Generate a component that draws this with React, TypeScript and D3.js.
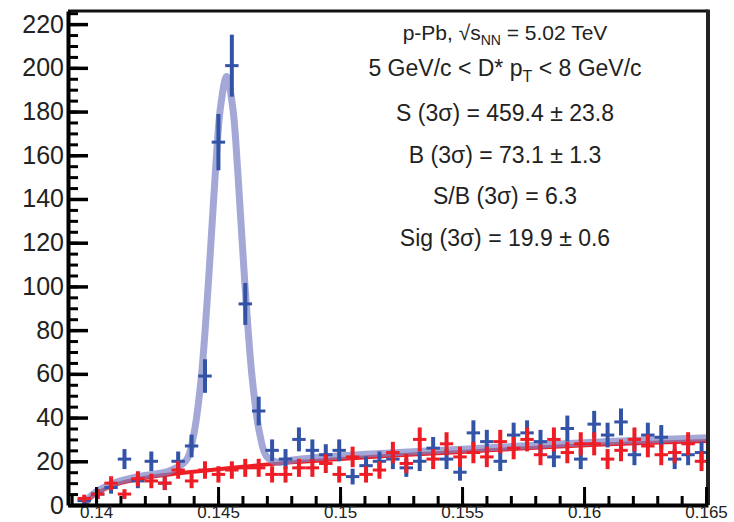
import React, { useEffect, useRef } from 'react'
import * as d3 from 'd3'

const W = 734
const H = 522

// histogram binning, delta M = M(Kpipi) - M(Kpi) in GeV/c^2
const nBins = 48
const binLow = 0.13869
const binWidth = 0.00055

// right-sign D*+ candidates (blue)
const rightSign = [0, 2, 5, 8, 21, 11, 20, 10, 20, 27,
    59, 166, 201, 92, 43, 25, 21, 30, 25, 23,
    25, 13, 18, 20, 21, 17, 20, 26, 21, 15,
    33, 29, 20, 32, 33, 29, 22, 35, 21, 37,
    32, 38, 23, 32, 31, 21, 23, 24]
// background candidates (red)
const background = [0, 3, 5, 10, 5, 12, 11, 10, 16, 11,
    16, 14, 16, 17, 17, 14, 14, 17, 17, 19,
    14, 22, 14, 16, 24, 19, 30, 21, 28, 22,
    24, 22, 29, 26, 30, 23, 30, 24, 28, 28,
    21, 25, 30, 27, 23, 24, 28, 20]

// fit curves
const fitMass = [0.13957, 0.1397, 0.1400, 0.1405, 0.1410, 0.1420, 0.1430, 0.1437, 0.1440, 0.1443,
    0.1446, 0.1449, 0.1451, 0.14535, 0.1456, 0.1458, 0.1461, 0.1464, 0.1467, 0.1470,
    0.1475, 0.1480, 0.1500, 0.1520, 0.1550, 0.1580, 0.1610, 0.1651]
const fitTotal = [0, 3, 6, 9, 11, 13.5, 15.5, 20.5, 32, 57,
    101, 154, 182, 196, 182, 154, 101, 58, 33, 22,
    19.5, 20.5, 22.5, 23.8, 25.5, 27.3, 29, 30.8]
const bkgMass = [0.13957, 0.1397, 0.1400, 0.1405, 0.1410, 0.1420, 0.1430, 0.1440, 0.1460, 0.1480,
    0.1500, 0.1520, 0.1550, 0.1580, 0.1610, 0.1651]
const fitBkg = [0, 2.5, 5, 8, 10, 12.5, 14, 15.2, 17.5, 19.5,
    21, 22.5, 24.3, 26.2, 27.8, 29.3]

const xTicks = [0.14, 0.145, 0.15, 0.155, 0.16, 0.165]
const yTicks = [0, 20, 40, 60, 80, 100, 120, 140, 160, 180, 200, 220]

const infoLines = [
    'S (3\u03c3) = 459.4 \u00b1 23.8',
    'B (3\u03c3) = 73.1 \u00b1 1.3',
    'S/B (3\u03c3) = 6.3',
    'Sig (3\u03c3) = 19.9 \u00b1 0.6'
]

const BLUE = '#3353a6'
const RED = '#ee1d25'
const FONT = '"Liberation Sans", Arial, Helvetica, sans-serif'

export default function App() {
    const ref = useRef<SVGSVGElement>(null)

    useEffect(() => {
        const svg = d3.select(ref.current)
        svg.selectAll('*').remove()

        const left = 68, right = 708, top = 11, bottom = 505

        const x = d3.scaleLinear().domain([0.13885, 0.16508]).range([left, right])
        const y = d3.scaleLinear().domain([0, 226]).range([bottom, top])

        svg.append('rect').attr('width', W).attr('height', H).attr('fill', '#fff')

        svg.append('defs').append('clipPath').attr('id', 'plot')
            .append('rect')
            .attr('x', left).attr('y', top)
            .attr('width', right - left).attr('height', bottom - top)

        const plot = svg.append('g').attr('clip-path', 'url(#plot)')

        // fits
        const line = d3.line<number>()
            .curve(d3.curveCatmullRom.alpha(0.5))

        plot.append('path')
            .attr('d', line.x(d => x(d)).y((d, i) => y(fitBkg[i]))(bkgMass))
            .attr('fill', 'none')
            .attr('stroke', RED)
            .attr('stroke-width', 4)

        plot.append('path')
            .attr('d', line.x(d => x(d)).y((d, i) => y(fitTotal[i]))(fitMass))
            .attr('fill', 'none')
            .attr('stroke', '#7c83c6')
            .attr('stroke-opacity', 0.7)
            .attr('stroke-width', 7)

        const centers = d3.range(nBins).map(i => binLow + (i + 0.5) * binWidth)

        const drawPoints = (values: number[], color: string) => {
            const g = plot.append('g').attr('stroke', color)
            values.forEach((v, i) => {
                if (v <= 0) return
                const c = centers[i]
                const e = Math.sqrt(v)
                g.append('line')
                    .attr('x1', x(c - binWidth / 2)).attr('x2', x(c + binWidth / 2))
                    .attr('y1', y(v)).attr('y2', y(v))
                    .attr('stroke-width', 3)
                g.append('line')
                    .attr('x1', x(c)).attr('x2', x(c))
                    .attr('y1', y(v - e)).attr('y2', y(v + e))
                    .attr('stroke-width', 4)
            })
        }
        drawPoints(rightSign, BLUE)
        drawPoints(background, RED)

        // frame
        svg.append('line')
            .attr('x1', left).attr('x2', right).attr('y1', top).attr('y2', top)
            .attr('stroke', '#111').attr('stroke-width', 3)
        svg.append('line')
            .attr('x1', right).attr('x2', right).attr('y1', top - 1.5).attr('y2', bottom)
            .attr('stroke', '#222').attr('stroke-width', 4)

        // x axis
        const xMinor = d3.range(0.139, 0.1651, 0.001).filter(v => v >= 0.13885)
        svg.append('g')
            .attr('transform', `translate(0,${bottom})`)
            .call(d3.axisBottom(x).tickValues(xMinor).tickSizeInner(-9).tickSizeOuter(0).tickFormat(() => ''))
            .call(g => g.select('.domain').remove())
            .call(g => g.selectAll('line').attr('stroke', '#000').attr('stroke-width', 3))
        const xAxis = svg.append('g')
            .attr('transform', `translate(0,${bottom})`)
            .call(d3.axisBottom(x).tickValues(xTicks).tickSizeInner(-18).tickSizeOuter(0)
                .tickPadding(0).tickFormat(d3.format('.3~f')))
        xAxis.select('.domain').attr('stroke', '#000').attr('stroke-width', 4)
        xAxis.selectAll('line').attr('stroke', '#000').attr('stroke-width', 3)
        xAxis.selectAll('text')
            .attr('font-family', FONT).attr('font-size', 17).attr('fill', '#222')
            .attr('dy', null).attr('y', 13)

        // y axis
        const yMinor = d3.range(0, 226, 5)
        svg.append('g')
            .attr('transform', `translate(${left},0)`)
            .call(d3.axisLeft(y).tickValues(yMinor).tickSizeInner(-10).tickSizeOuter(0).tickFormat(() => ''))
            .call(g => g.select('.domain').remove())
            .call(g => g.selectAll('line').attr('stroke', '#000').attr('stroke-width', 3))
        const yAxis = svg.append('g')
            .attr('transform', `translate(${left},0)`)
            .call(d3.axisLeft(y).tickValues(yTicks).tickSizeInner(-20).tickSizeOuter(0)
                .tickPadding(4).tickFormat(d3.format('d')))
        yAxis.select('.domain').attr('stroke', '#000').attr('stroke-width', 4)
        yAxis.selectAll('line').attr('stroke', '#000').attr('stroke-width', 3.5)
        yAxis.selectAll('text').attr('font-family', FONT).attr('font-size', 25).attr('fill', '#222')

        // info text
        const cx = 505
        const info = svg.append('g')
            .attr('font-family', FONT)
            .attr('fill', '#222')
            .attr('text-anchor', 'middle')

        const t1 = info.append('text').attr('x', cx).attr('y', 40).attr('font-size', 21)
        t1.append('tspan').text('p-Pb, \u221as')
        t1.append('tspan').attr('font-size', 14).attr('dy', 5).text('NN')
        t1.append('tspan').attr('dy', -5).text(' = 5.02 TeV')

        const t2 = info.append('text').attr('x', cx).attr('y', 76).attr('font-size', 23)
        t2.append('tspan').text('5 GeV/c < D* p')
        t2.append('tspan').attr('font-size', 16).attr('dy', 6).text('T')
        t2.append('tspan').attr('dy', -6).text(' < 8 GeV/c')

        info.selectAll('text.stat')
            .data(infoLines)
            .enter()
            .append('text')
            .attr('class', 'stat')
            .attr('x', cx)
            .attr('y', (d, i) => 121 + i * 41.5)
            .attr('font-size', 23)
            .text(d => d)
    }, [])

    return (
        <svg ref={ref} width={W} height={H}
            style={{ position: 'absolute', left: 0, top: 0, display: 'block' }} />
    )
}
